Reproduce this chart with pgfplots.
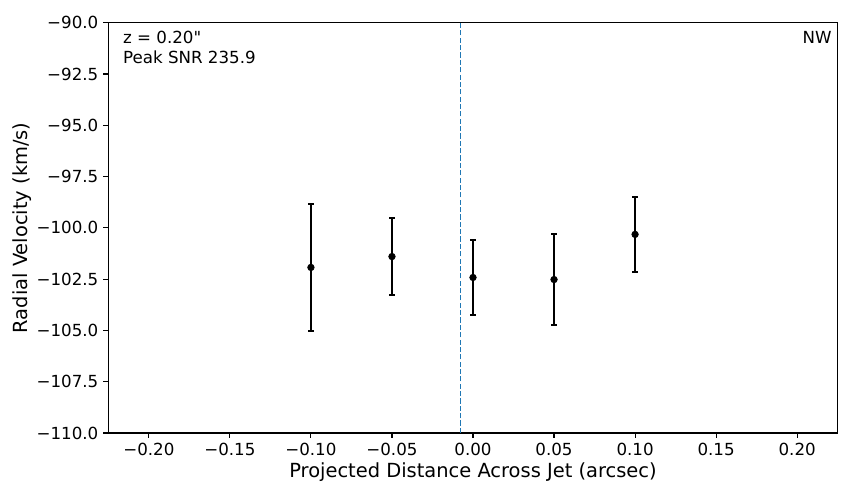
\documentclass[border=0pt]{standalone}
\usepackage{fontspec}
\setmainfont{DejaVu Sans}[Ligatures=TeXOff]
\usepackage{pgfplots}
\pgfplotsset{compat=1.18}
\definecolor{cZero}{HTML}{1F77B4}
\begin{document}
\begin{tikzpicture}
\begin{axis}[
  scale only axis,
  width=525.17pt, height=295.42pt,
  xmin=-0.225, xmax=0.225,
  ymin=-110, ymax=-90,
  xtick={-0.2,-0.15,-0.1,-0.05,0,0.05,0.1,0.15,0.2},
  xticklabels={−0.20,−0.15,−0.10,−0.05,0.00,0.05,0.10,0.15,0.20},
  ytick={-110,-107.5,-105,-102.5,-100,-97.5,-95,-92.5,-90},
  yticklabels={−110.0,−107.5,−105.0,−102.5,−100.0,−97.5,−95.0,−92.5,−90.0},
  tick pos=left,
  tick align=outside,
  major tick length=3.5pt,
  major tick style={black, line width=0.8pt},
  axis line style={line width=0.8pt},
  ticklabel style={font=\fontsize{12}{14.4}\selectfont, inner sep=0pt},
  xticklabel style={yshift=-3.5pt},
  yticklabel style={xshift=-3.5pt},
  xlabel={Projected Distance Across Jet (arcsec)},
  ylabel={Radial Velocity (km/s)},
  every axis x label/.style={at={(rel axis cs:0.5,-0.108)}, anchor=base, font=\fontsize{14}{16.8}\selectfont},
  every axis y label/.style={at={(rel axis cs:-0.1104,0.5)}, anchor=base, rotate=90, font=\fontsize{14}{16.8}\selectfont},
]
\addplot[cZero, line width=1pt, dash pattern=on 3.7pt off 1.6pt] coordinates {(-0.0076,-110) (-0.0076,-90)};
\addplot[black, only marks, mark=*, mark size=2.4pt,
  error bars/.cd, y dir=both, y explicit,
  error mark=|,
  error bar style={line width=1.5pt, black},
  error mark options={black, line width=1.2pt, mark size=2pt}]
  coordinates {
  (-0.10,-101.93) +- (0,3.09)
  (-0.05,-101.40) +- (0,1.88)
  (0.00,-102.42) +- (0,1.83)
  (0.05,-102.52) +- (0,2.22)
  (0.10,-100.32) +- (0,1.83)
  };
\node[anchor=north west, inner sep=0pt, align=left, font=\fontsize{12}{14.4}\selectfont] at (rel axis cs:0.02,0.98) {z = 0.20"\\Peak SNR 235.9};
\node[anchor=north east, inner sep=0pt, font=\fontsize{12}{14.4}\selectfont] at (rel axis cs:0.992,0.98) {NW};
\coordinate (bl) at (rel axis cs:0,0);
\coordinate (tr) at (rel axis cs:1,1);
\end{axis}
\pgfresetboundingbox
\path[use as bounding box] ([xshift=-77.98pt,yshift=-38.16pt]bl) rectangle ([xshift=20.38pt,yshift=16.34pt]tr);
\end{tikzpicture}
\end{document}
